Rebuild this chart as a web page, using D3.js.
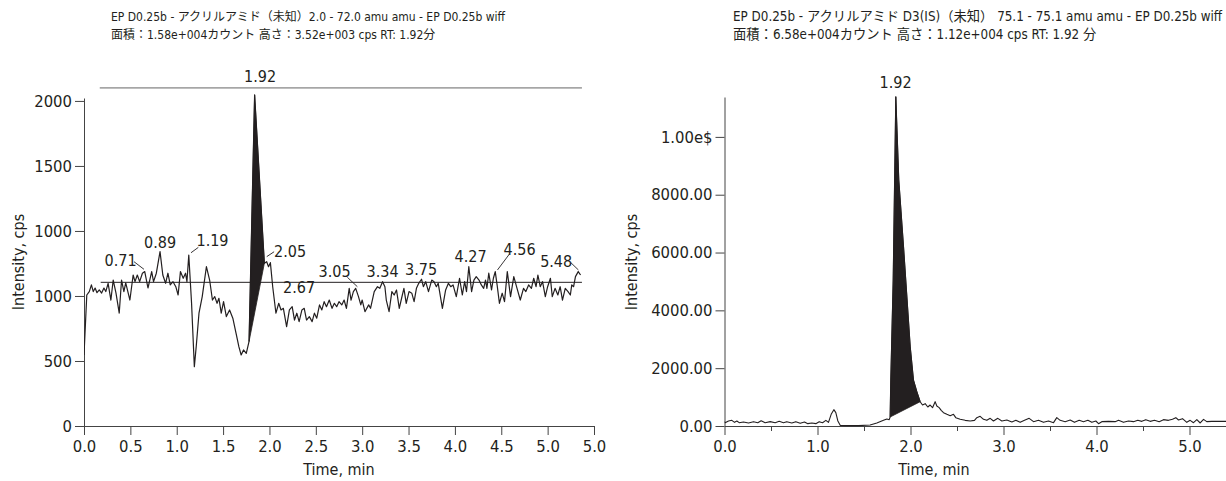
<!DOCTYPE html>
<html>
<head>
<meta charset="utf-8">
<script src="https://cdn.jsdelivr.net/npm/d3@7"></script>
<style>
  html, body { margin: 0; padding: 0; background: #fff; }
  svg text { font-family: "Liberation Sans Narrow", "DejaVu Sans Condensed", "Noto Sans CJK JP", sans-serif; fill: #231f20; }
</style>
</head>
<body>
<div id="chart"></div>
<script>
/* Two XIC chromatograms side by side: analyte (left) and IS (right). */

// ---- left: アクリルアミド 72 amu ----
const leftTitle = ["EP D0.25b - アクリルアミド（未知）2.0 - 72.0 amu amu - EP D0.25b wiff",
                   "面積：1.58e+004カウント 高さ：3.52e+003 cps RT: 1.92分"];
const leftTime = [0, .03, .057, .08, .10, .12, .14, .165, .19, .215, .235, .26, .29, .315, .345, .38, .405, .43, .45, .495,
  .53, .55, .575, .6, .63, .655, .69, .73, .75, .78, .82, .85, .88, .905, .93, .96, .99, 1.015, 1.04, 1.07,
  1.095, 1.11, 1.13, 1.16, 1.19, 1.21, 1.24, 1.275, 1.32, 1.355, 1.385, 1.41, 1.435, 1.455, 1.48, 1.505, 1.535, 1.57, 1.605, 1.64,
  1.67, 1.695, 1.72, 1.75, 1.78, 1.84, 1.945, 1.97, 1.99, 2.01, 2.035, 2.07, 2.1, 2.125, 2.15, 2.185, 2.215, 2.245, 2.27, 2.295,
  2.32, 2.35, 2.375, 2.4, 2.43, 2.46, 2.485, 2.51, 2.54, 2.565, 2.59, 2.615, 2.645, 2.675, 2.7, 2.725, 2.75, 2.78, 2.805, 2.83,
  2.86, 2.88, 2.905, 2.93, 2.96, 2.985, 3.0, 3.03, 3.07, 3.09, 3.13, 3.165, 3.19, 3.22, 3.245, 3.26, 3.29, 3.32, 3.345, 3.37,
  3.4, 3.425, 3.45, 3.475, 3.505, 3.535, 3.56, 3.585, 3.61, 3.64, 3.66, 3.685, 3.715, 3.75, 3.775, 3.8, 3.82, 3.865, 3.9, 3.93,
  3.955, 3.98, 4.015, 4.05, 4.08, 4.105, 4.125, 4.15, 4.18, 4.205, 4.23, 4.26, 4.285, 4.31, 4.33, 4.345, 4.365, 4.395, 4.415, 4.435,
  4.455, 4.48, 4.51, 4.535, 4.565, 4.6, 4.635, 4.67, 4.705, 4.74, 4.765, 4.795, 4.825, 4.85, 4.875, 4.895, 4.92, 4.945, 4.975, 5.0,
  5.03, 5.05, 5.08, 5.11, 5.135, 5.16, 5.19, 5.22, 5.245, 5.26, 5.28, 5.3, 5.33, 5.355];
const leftInt = [437, 806, 827, 868, 827, 849, 820, 837, 818, 849, 827, 878, 775, 898, 818, 695, 898, 827, 880, 775,
  929, 888, 929, 888, 940, 950, 849, 950, 888, 940, 1073, 929, 878, 940, 868, 888, 857, 806, 950, 909,
  940, 888, 1052, 755, 365, 488, 694, 796, 980, 898, 775, 796, 755, 786, 694, 765, 673, 714, 663, 570,
  488, 437, 468, 447, 520, 2037, 1001, 1011, 980, 1005, 857, 694, 755, 714, 724, 611, 714, 734, 652, 694,
  642, 714, 724, 652, 673, 642, 694, 663, 745, 714, 765, 734, 775, 724, 755, 734, 765, 745, 775, 724,
  847, 775, 827, 847, 796, 745, 775, 703, 745, 724, 827, 857, 847, 888, 857, 775, 703, 827, 806, 837,
  724, 786, 847, 755, 827, 817, 765, 847, 878, 903, 857, 888, 827, 898, 888, 857, 878, 724, 837, 878,
  857, 868, 796, 909, 806, 888, 827, 980, 827, 898, 919, 898, 868, 847, 898, 847, 940, 837, 909, 950,
  868, 755, 817, 765, 950, 796, 919, 847, 775, 847, 827, 868, 847, 909, 857, 929, 857, 888, 796, 857,
  909, 796, 847, 806, 857, 775, 847, 827, 806, 868, 857, 919, 950, 929];
const leftPeak = [1.78, 1.945];                 // integrated region (start, end)
const leftBaseline = [0.18, 5.37, 884];         // t0, t1, level
const leftTopBar = [0.17, 5.37, 2080];
const leftXTicks = [0, .5, 1, 1.5, 2, 2.5, 3, 3.5, 4, 4.5, 5, 5.5];
const leftXLabels = ["0.0", "0.5", "1.0", "1.5", "2.0", "2.5", "3.0", "3.5", "4.0", "4.5", "5.0", "5.0"];
const leftYTicks = [0, 400, 800, 1200, 1600, 2000];
const leftYLabels = ["0", "500", "1000", "1000", "1500", "2000"];
const leftLabels = ["1.92", "0.71", "0.89", "1.19", "2.05", "2.67", "3.05", "3.34", "3.75", "4.27", "4.56", "5.48"];
const leftLabelT = [1.899, .394, .82, 1.386, 2.222, 2.319, 2.702, 3.22, 3.635, 4.169, 4.698, 5.092];
const leftLabelV = [2116, 984, 1095, 1107, 1042, 818, 918, 918, 929, 1011, 1052, 980];
const leftLeaders = [[.539, 1011, .647, 964], [1.154, 1066, 1.233, 1099], [1.971, 1042, 2.05, 1072],
  [2.84, 915, 2.948, 857], [4.459, 960, 4.588, 1058], [5.25, 1005, 5.332, 960]];

// ---- right: アクリルアミド D3 (IS) 75 amu ----
const rightTitle = ["EP D0.25b - アクリルアミド D3(IS)（未知） 75.1 - 75.1 amu amu - EP D0.25b wiff",
                    "面積：6.58e+004カウント 高さ：1.12e+004 cps RT: 1.92 分"];
const rightTime = [0, .007, .043, .079, .108, .133, .158, .204, .258, .312, .358, .394, .437, .491, .545, .588, .634, .670, .724, .767,
  .814, .860, .896, .939, .982, 1.018, 1.054, 1.090, 1.118, 1.147, 1.176, 1.197, 1.219, 1.244, 1.297, 1.441, 1.566, 1.638, 1.710, 1.746,
  1.771, 1.781, 1.788, 1.814, 1.842, 1.874, 1.925, 1.997, 2.032, 2.068, 2.104, 2.129, 2.158, 2.186, 2.211, 2.237, 2.265, 2.283, 2.308, 2.330,
  2.355, 2.391, 2.427, 2.462, 2.487, 2.534, 2.588, 2.642, 2.688, 2.713, 2.749, 2.785, 2.821, 2.857, 2.892, 2.939, 2.982, 3.036, 3.090, 3.133,
  3.179, 3.226, 3.276, 3.323, 3.376, 3.430, 3.484, 3.538, 3.573, 3.609, 3.663, 3.717, 3.763, 3.814, 3.860, 3.907, 3.950, 3.993, 4.022, 4.057,
  4.129, 4.201, 4.237, 4.290, 4.344, 4.398, 4.444, 4.487, 4.530, 4.577, 4.624, 4.674, 4.720, 4.774, 4.817, 4.853, 4.882, 4.925, 4.971, 5.007,
  5.043, 5.079, 5.115, 5.151, 5.186, 5.240, 5.366, 5.40];
const rightInt = [150, 115, 173, 196, 127, 173, 115, 138, 104, 150, 115, 184, 115, 150, 115, 161, 115, 150, 104, 150,
  92, 138, 81, 104, 81, 150, 115, 196, 127, 404, 565, 461, 173, 23, 12, 12, 35, 104, 196, 242,
  219, 311, 1590, 5050, 11390, 8510, 6200, 2740, 1590, 1190, 840, 726, 772, 657, 726, 634, 842, 692, 634, 542,
  461, 404, 357, 404, 288, 231, 196, 173, 196, 288, 334, 231, 196, 265, 173, 265, 173, 207, 138, 196,
  127, 196, 265, 150, 196, 127, 173, 115, 288, 196, 150, 207, 127, 196, 150, 196, 127, 173, 81, 150,
  161, 150, 196, 127, 173, 150, 196, 161, 219, 161, 196, 150, 219, 196, 231, 288, 207, 254, 127, 196,
  115, 219, 104, 231, 150, 161, 161, 161];
const rightPeak = [1.781, 2.104];
const rightXTicks = [0, 1, 2, 3, 4, 5];
const rightXLabels = ["0.0", "1.0", "2.0", "3.0", "4.0", "5.0"];
const rightXMinor = [.5, 1.5, 2.5, 3.5, 4.5, 5.5];
const rightYTicks = [0, 2000, 4000, 6000, 8000, 10000];
const rightYLabels = ["0.00", "2000.00", "4000.00", "6000.00", "8000.00", "1.00e$"];
const rightLabels = ["1.92"];
const rightLabelT = [1.84];
const rightLabelV = [11691];

const W = 1226, H = 481;
const INK = "#231f20", AXIS = "#444";
const svg = d3.select("#chart").append("svg").attr("width", W).attr("height", H);

function drawPanel(o) {
  const x = d3.scaleLinear().domain([0, 5.5]).range(o.xr);
  const y = d3.scaleLinear().domain(o.yd).range([426, o.ytop]);
  const g = svg.append("g");
  const pts = o.time.map((t, i) => [t, o.vals[i]]);

  // titles
  o.title.forEach((s, i) => g.append("text").attr("x", o.titleX).attr("y", 21 + i * 18)
    .style("font-size", o.titleSize).text(s));

  // axes
  g.append("g").attr("transform", `translate(${o.xr[0]},0)`)
    .call(d3.axisLeft(y).tickValues(o.yTicks).tickSize(9).tickSizeOuter(0).tickPadding(3)
      .tickFormat((d, i) => o.yLabels[i]));
  g.append("g").attr("transform", "translate(0,426)")
    .call(d3.axisBottom(x).tickValues(o.xTicks).tickSize(9).tickSizeOuter(0).tickPadding(5)
      .tickFormat((d, i) => o.xLabels[i]));
  if (o.xMinor) {
    g.append("g").attr("transform", "translate(0,426)")
      .call(d3.axisBottom(x).tickValues(o.xMinor).tickSize(5).tickFormat(""))
      .call(a => a.select(".domain").remove());
  }
  g.selectAll(".domain, .tick line").attr("stroke", AXIS).attr("stroke-width", 1);
  g.selectAll(".tick text").style("font-size", "16.5px").style("font-family", null).attr("fill", INK);

  g.append("text").attr("transform", `translate(${o.yTitleX},${262}) rotate(-90)`)
    .attr("text-anchor", "middle").style("font-size", "16px").text("Intensity, cps");
  g.append("text").attr("x", o.xTitleX).attr("y", 475)
    .attr("text-anchor", "middle").style("font-size", "16px").text("Time, min");

  // horizontal reference lines (top bar is grey)
  (o.hlines || []).forEach((h, i) => g.append("line")
    .attr("x1", x(h[0])).attr("x2", x(h[1])).attr("y1", y(h[2])).attr("y2", y(h[2]))
    .attr("stroke", i === 0 ? "#666" : INK).attr("stroke-width", 1));

  // integrated peak: curve between start and end, closed by a straight baseline
  const inPk = pts.filter(p => p[0] >= o.peak[0] && p[0] <= o.peak[1]);
  g.append("path")
    .attr("d", d3.line().x(d => x(d[0])).y(d => y(d[1]))(inPk) + "Z")
    .attr("fill", INK).attr("stroke", INK).attr("stroke-width", 0.8);

  // trace
  g.append("clipPath").attr("id", o.id).append("rect")
    .attr("x", o.xr[0]).attr("y", 0).attr("width", W - o.xr[0]).attr("height", 427);
  g.append("path").datum(pts).attr("clip-path", `url(#${o.id})`)
    .attr("d", d3.line().x(d => x(d[0])).y(d => y(d[1])))
    .attr("fill", "none").attr("stroke", INK).attr("stroke-width", o.lw).attr("stroke-linejoin", "round");

  // peak labels + leaders
  o.labels.forEach((s, i) => g.append("text").attr("x", x(o.labelT[i])).attr("y", y(o.labelV[i]))
    .attr("text-anchor", "middle").style("font-size", "16px").text(s));
  (o.leaders || []).forEach(l => g.append("line")
    .attr("x1", x(l[0])).attr("y1", y(l[1])).attr("x2", x(l[2])).attr("y2", y(l[3]))
    .attr("stroke", INK).attr("stroke-width", 0.9));
}

drawPanel({
  id: "clipL", xr: [84, 594], yd: [0, 2018], ytop: 98, titleX: 111, titleSize: "12px", yTitleX: 24, xTitleX: 339, lw: 1.2,
  title: leftTitle, time: leftTime, vals: leftInt, peak: leftPeak,
  xTicks: leftXTicks, xLabels: leftXLabels, yTicks: leftYTicks, yLabels: leftYLabels,
  labels: leftLabels, labelT: leftLabelT, labelV: leftLabelV, leaders: leftLeaders,
  hlines: [leftTopBar, leftBaseline]
});
drawPanel({
  id: "clipR", xr: [724.5, 1236], yd: [0, 11380], ytop: 97, titleX: 733, titleSize: "13.3px", yTitleX: 637, xTitleX: 934, lw: 1.1,
  title: rightTitle, time: rightTime, vals: rightInt, peak: rightPeak,
  xTicks: rightXTicks, xLabels: rightXLabels, xMinor: rightXMinor, yTicks: rightYTicks, yLabels: rightYLabels,
  labels: rightLabels, labelT: rightLabelT, labelV: rightLabelV
});
</script>
</body>
</html>
